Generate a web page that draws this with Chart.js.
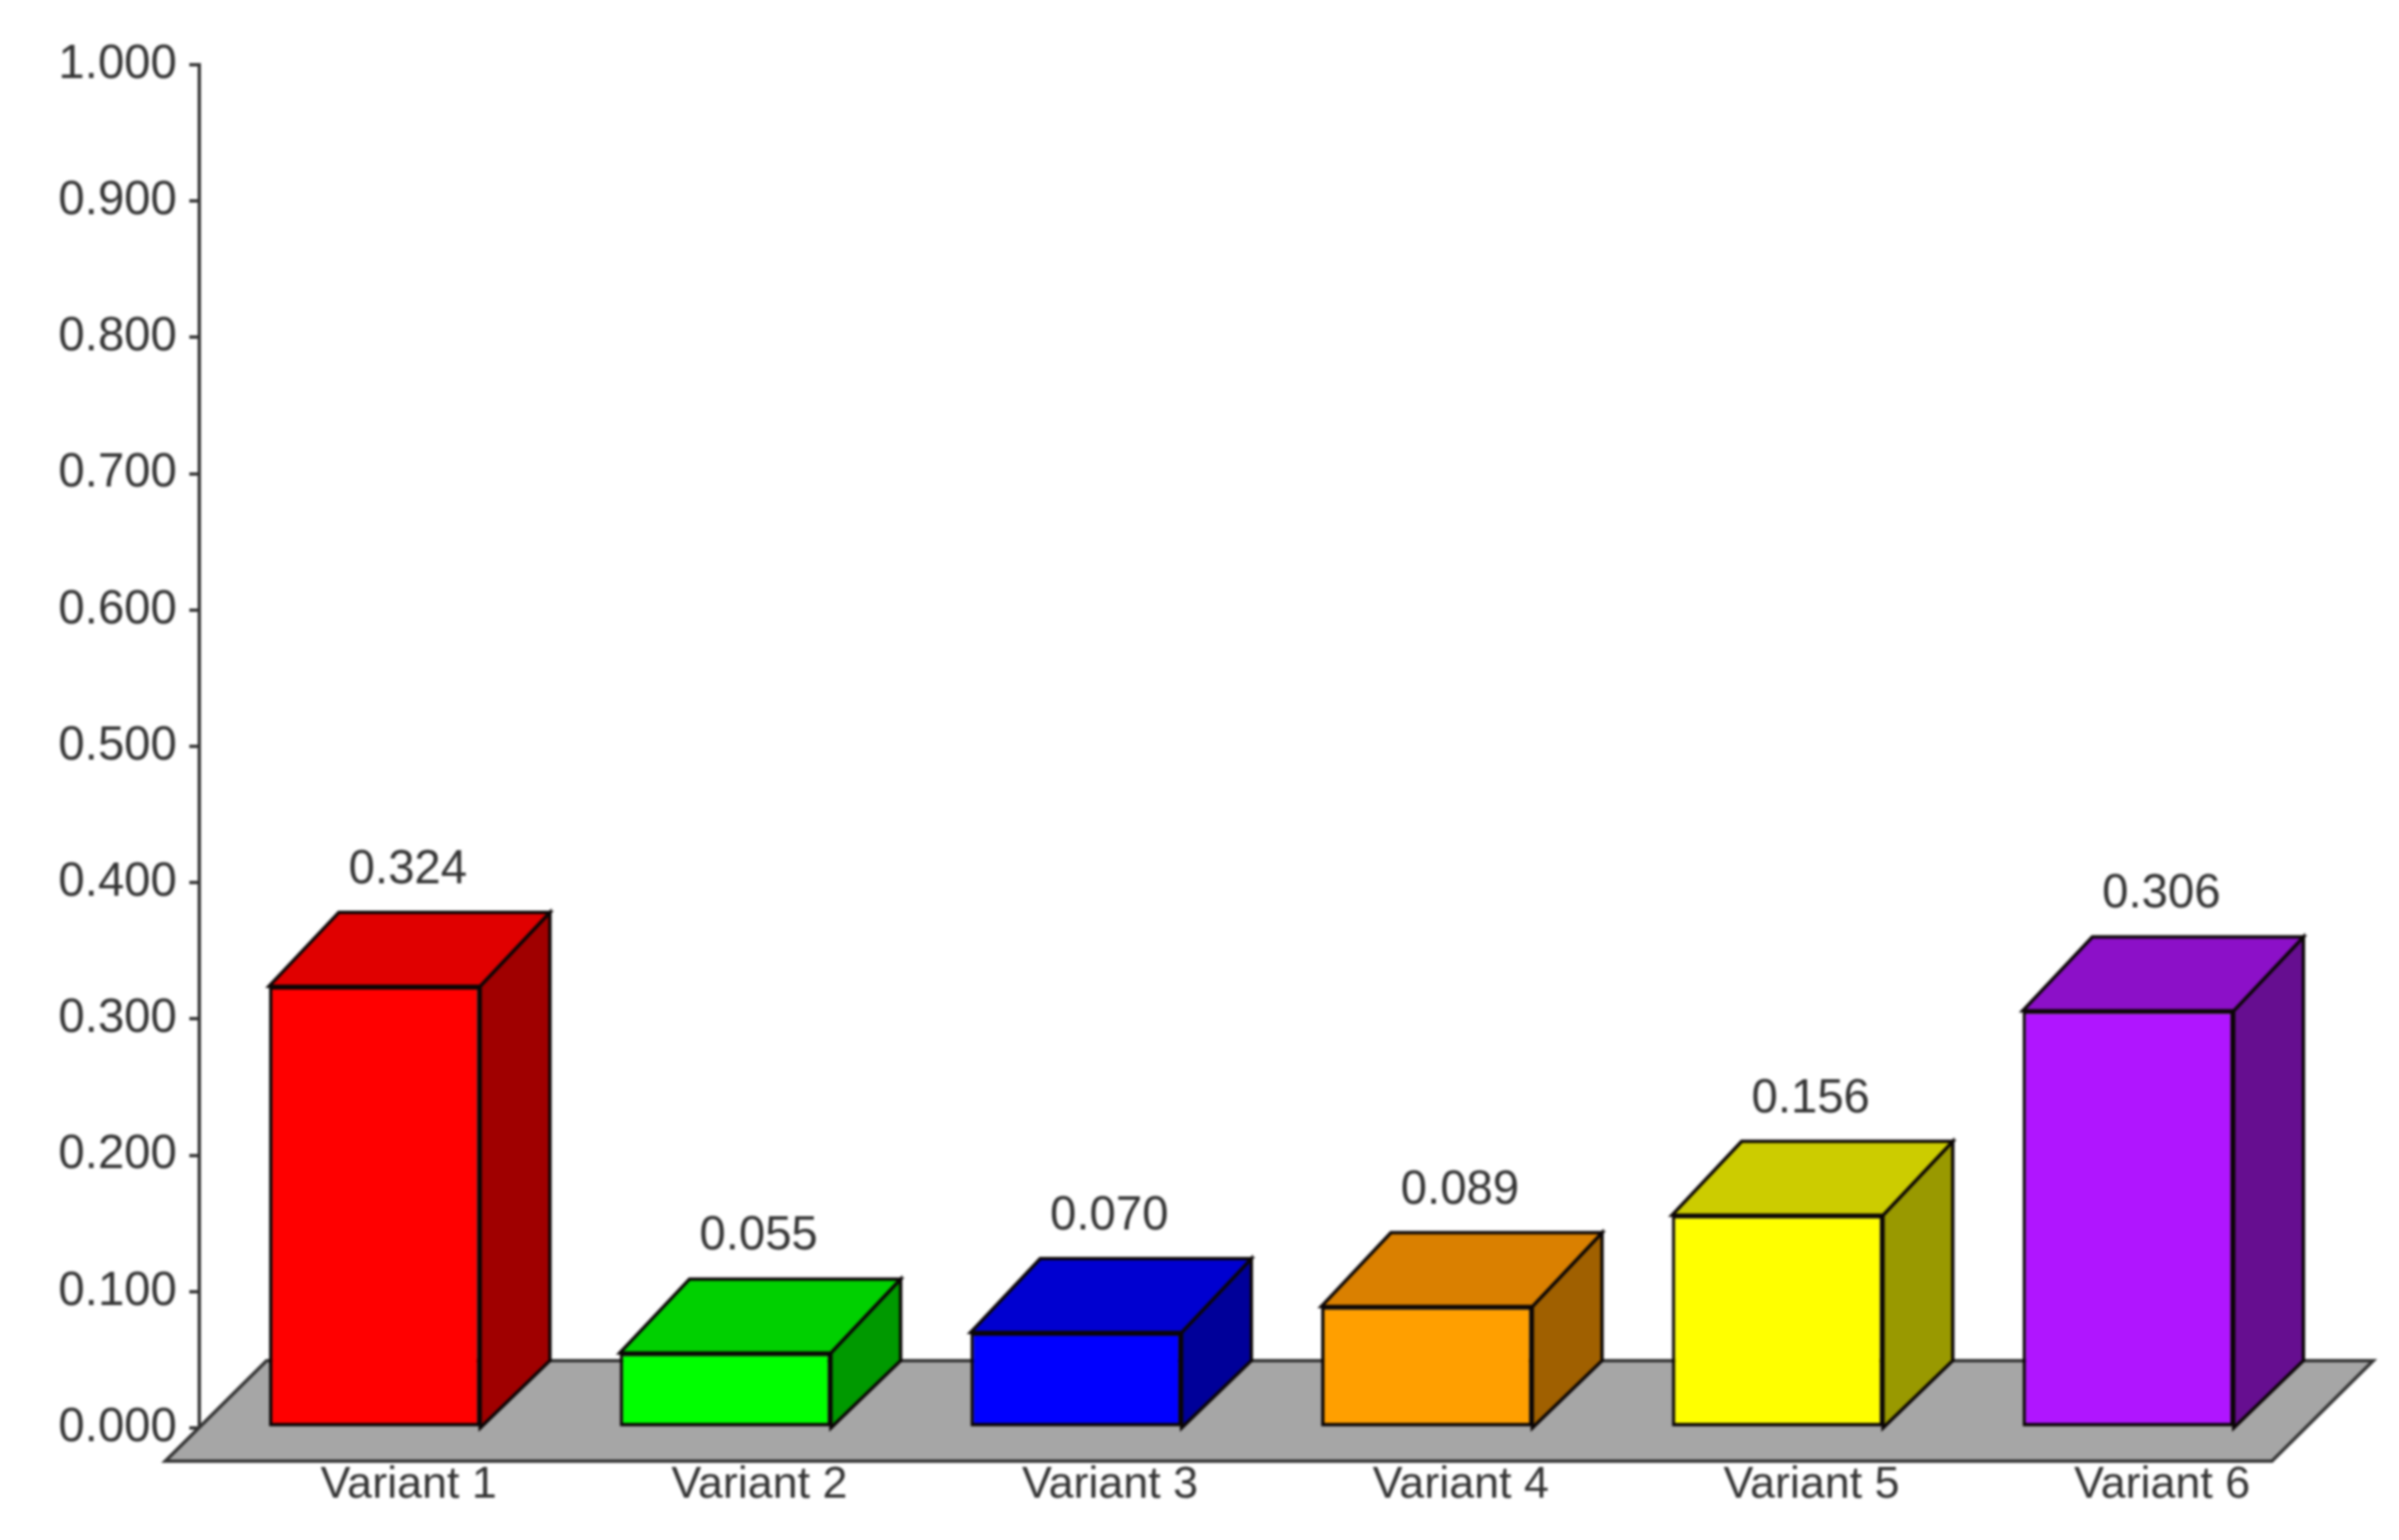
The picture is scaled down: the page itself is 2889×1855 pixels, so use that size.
<!DOCTYPE html>
<html>
<head>
<meta charset="utf-8">
<title>Variants</title>
<script src="https://cdn.jsdelivr.net/npm/chart.js@4"></script>
<style>
    html, body { margin: 0; padding: 0; background: #fff; }
    canvas { display: block; filter: blur(1.5px); }
</style>
</head>
<body>
<canvas id="chart" width="2889" height="1855"></canvas>
<script>
// Chart data
const categories = ['Variant 1', 'Variant 2', 'Variant 3', 'Variant 4', 'Variant 5', 'Variant 6'];
const values = [0.324, 0.055, 0.070, 0.089, 0.156, 0.306];
const yTickLabels = ['0.000', '0.100', '0.200', '0.300', '0.400', '0.500', '0.600', '0.700', '0.800', '0.900', '1.000'];

// Face colours of each box
const frontColors = ['#ff0000', '#00ff00', '#0000ff', '#ff9f00', '#ffff00', '#b015ff'];
const topColors = ['#e00000', '#00d000', '#0000d0', '#da8000', '#cccc00', '#8c10c8'];
const sideColors = ['#a00000', '#009900', '#000099', '#a06000', '#999900', '#660e90'];

const FONT = '"Liberation Sans", Arial, sans-serif';
const TEXT_COLOR = '#333333';
const EDGE_COLOR = '#0a0505';

// 3D look, in pixels
const DEPTH_X = 84;
const DEPTH_Y = 89;
const FLOOR_BACK = 81;
const FLOOR_FRONT = 40;

const face = (ctx, points, fill) => {
    ctx.beginPath();
    points.forEach(([x, y], i) => (i ? ctx.lineTo(x, y) : ctx.moveTo(x, y)));
    ctx.closePath();
    ctx.fillStyle = fill;
    ctx.fill();
    ctx.stroke();
};

/**
 * Floor plus the top and side faces, drawn under the front faces of the bars
 */
const boxPlugin = {
    id: 'box3d',
    beforeDatasetsDraw(chart) {
        const { ctx, chartArea, scales } = chart;
        const base = scales.y.getPixelForValue(0);
        const backY = base - FLOOR_BACK;
        const frontY = base + FLOOR_FRONT;

        ctx.save();
        ctx.lineWidth = 4;
        ctx.lineJoin = 'miter';
        ctx.strokeStyle = '#333333';
        face(ctx, [
            [chartArea.left - 41, frontY],
            [chartArea.left + 81, backY],
            [chartArea.right + 84, backY],
            [chartArea.right - 38, frontY]
        ], '#a6a6a6');

        ctx.strokeStyle = EDGE_COLOR;
        chart.getDatasetMeta(0).data.forEach((bar, i) => {
            const left = bar.x - bar.width / 2;
            const right = bar.x + bar.width / 2;
            const top = bar.y;
            face(ctx, [
                [right, top],
                [right + DEPTH_X, top - DEPTH_Y],
                [right + DEPTH_X, backY],
                [right, base]
            ], sideColors[i]);
            face(ctx, [
                [left, top],
                [left + DEPTH_X, top - DEPTH_Y],
                [right + DEPTH_X, top - DEPTH_Y],
                [right, top]
            ], topColors[i]);
        });
        ctx.restore();
    },
    afterDatasetsDraw(chart) {
        const { ctx } = chart;
        ctx.save();
        ctx.font = '57px ' + FONT;
        ctx.fillStyle = TEXT_COLOR;
        ctx.textAlign = 'center';
        ctx.textBaseline = 'middle';
        chart.getDatasetMeta(0).data.forEach((bar, i) => {
            ctx.fillText(values[i].toFixed(3), bar.x + 40, bar.y - 140);
        });
        ctx.restore();
    }
};

new Chart(document.getElementById('chart').getContext('2d'), {
    type: 'bar',
    data: {
        labels: categories,
        datasets: [{
            data: values,
            backgroundColor: frontColors,
            borderColor: EDGE_COLOR,
            borderWidth: 4,
            borderSkipped: false,
            barPercentage: 0.602,
            categoryPercentage: 1
        }]
    },
    options: {
        responsive: false,
        animation: false,
        layout: { padding: { top: 78, right: 115, bottom: 0, left: 0 } },
        plugins: { legend: { display: false }, tooltip: { enabled: false } },
        scales: {
            x: {
                grid: { display: false, drawTicks: false },
                border: { display: false },
                afterFit: (scale) => { scale.height = 135; },
                ticks: {
                    labelOffset: 41,
                    padding: 37,
                    maxRotation: 0,
                    color: TEXT_COLOR,
                    font: { family: FONT, size: 54 }
                }
            },
            y: {
                min: 0,
                max: 1,
                afterFit: (scale) => { scale.width = 240; },
                grid: { drawOnChartArea: false, tickLength: 12, color: '#333333', lineWidth: 4 },
                border: { display: true, color: '#333333', width: 4 },
                ticks: {
                    stepSize: 0.1,
                    padding: 15,
                    color: TEXT_COLOR,
                    font: { family: FONT, size: 57 },
                    callback: (value, index) => yTickLabels[index]
                }
            }
        }
    },
    plugins: [boxPlugin]
});
</script>
</body>
</html>
